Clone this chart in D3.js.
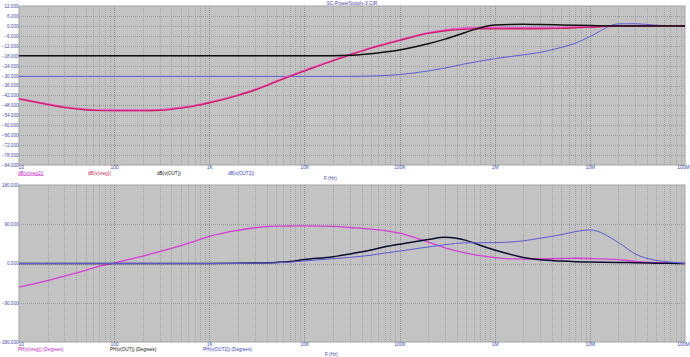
<!DOCTYPE html>
<html>
<head>
<meta charset="utf-8">
<script src="https://cdn.jsdelivr.net/npm/d3@7.9.0/dist/d3.min.js"></script>
<style>
  html, body { margin: 0; padding: 0; background: #fff; }
  svg { display: block; font-family: "Liberation Sans", Arial, sans-serif; }
</style>
</head>
<body>
<svg id="chart" width="690" height="357"></svg>
<script>
// ---------- data ----------
const title = 'SC-PowerSupply-3.CIR';

// sample frequencies (Hz), 1-2-3-5-7 per decade
const freqs = [
  10, 20, 30, 50, 70,
  100, 200, 300, 500, 700,
  1e3, 2e3, 3e3, 5e3, 7e3,
  1e4, 2e4, 3e4, 5e4, 7e4,
  1e5, 2e5, 3e5, 5e5, 7e5,
  1e6, 2e6, 3e6, 5e6, 7e6,
  1e7, 2e7, 3e7, 5e7, 7e7,
  1e8
];

const xTickVals = [10, 100, 1e3, 1e4, 1e5, 1e6, 1e7, 1e8];
const xTickText = ['10', '100', '1K', '10K', '100K', '1M', '10M', '100M'];

const dbTicks = [12, 6, 0, -6, -12, -18, -24, -30, -36, -42, -48, -54, -60, -66, -72, -78, -84];
const phTicks = [180, 90, 0, -90, -180];

// magnitude (dB)
const dbVreg2 = [
  -44, -47.3, -49.1, -50.5, -50.9,
  -51, -51, -50.8, -49.5, -48.2,
  -46.3, -41.8, -38.6, -33.6, -30.3,
  -27.1, -20.8, -17.4, -13.3, -11,
  -8.6, -4.3, -2.6, -1.5, -1.2,
  -1.2, -1.3, -1.3, -1.2, -0.9,
  -0.5, 0, 0, 0, 0,
  0
];
const dbVreg = [
  -44.2, -47.5, -49.3, -50.7, -51.1,
  -51.2, -51.2, -51, -49.7, -48.4,
  -46.5, -42, -38.8, -33.8, -30.5,
  -27.3, -21, -17.6, -13.5, -11.2,
  -8.8, -4.5, -3, -2, -1.8,
  -1.8, -1.8, -1.8, -1.6, -1.2,
  -0.8, -0.1, 0, 0, 0,
  0
];
const dbOut = [
  -18, -18, -18, -18, -18,
  -18, -18, -18, -18, -18,
  -18, -18, -18, -18, -18,
  -18, -18, -17.8, -16.8, -15.8,
  -14.5, -10.8, -8, -3.8, -1.2,
  0.5, 1, 0.8, 0.6, 0.4,
  0.2, 0, 0, 0, 0,
  0
];
const dbOut2 = [
  -30.5, -30.5, -30.5, -30.5, -30.5,
  -30.5, -30.5, -30.5, -30.5, -30.5,
  -30.5, -30.5, -30.5, -30.5, -30.5,
  -30.5, -30.5, -30.5, -30.3, -30,
  -29.4, -27.2, -25.5, -22.8, -21.3,
  -19.8, -17.5, -16, -13, -10.5,
  -6.5, 1.2, 1.3, 0.4, 0.1,
  0
];

// phase (degrees)
const phVreg = [
  -54, -39, -29, -15.5, -6,
  1, 17, 27, 41, 51,
  62, 76, 82, 85.5, 86,
  86.5, 85, 82.5, 79, 75.5,
  69.5, 49, 36, 24, 18,
  13.5, 10, 10.5, 11.5, 12,
  11.5, 9, 5, 2, 0.8,
  0
];
const phOut = [
  0, 0, 0, 0, 0,
  0, 0, 0, 0, 0,
  0, 0.5, 1, 2.5, 4.5,
  9, 15.5, 22, 31, 38.5,
  44, 55, 60, 53, 42,
  31, 14, 8.5, 5.5, 4.2,
  3.5, 2.5, 1.5, 0.7, 0.3,
  0
];
const phOut2 = [
  0, 0, 0, 0, 0,
  0, 0, 0, 0, 0,
  0, 0, 0.5, 1.5, 3,
  6, 11, 14, 19, 24,
  28.5, 38, 43, 47.5, 47.5,
  47.8, 52, 58, 66, 73,
  77, 48, 22, 7, 3.5,
  0
];

// ---------- layout ----------
const svg = d3.select('#chart');
const X0 = 19, X1 = 685;
const topBox = { y0: 6, y1: 165 };
const botBox = { y0: 185, y1: 342 };
const labelColor = '#4646a6';

const x = d3.scaleLog().domain([10, 1e8]).range([X0, X1]);
const yDb = d3.scaleLinear().domain([-84, 12]).range([topBox.y1, topBox.y0]);
const yPh = d3.scaleLinear().domain([-180, 180]).range([botBox.y1, botBox.y0]);

svg.append('text')
  .attr('x', 352).attr('y', 5)
  .attr('text-anchor', 'middle')
  .attr('font-size', 4.8)
  .attr('fill', labelColor)
  .text(title);

function drawPanel(y, yTicks, box) {
  const g = svg.append('g');
  g.append('rect')
    .attr('x', X0).attr('y', box.y0)
    .attr('width', X1 - X0).attr('height', box.y1 - box.y0)
    .attr('fill', '#c3c3c3')
    .attr('stroke', '#a4a4a4').attr('stroke-width', 1);

  // vertical grid: every 1..9 x decade
  g.selectAll('line.vg')
    .data(x.ticks().filter(v => v > 10 && v < 1e8))
    .join('line')
    .attr('x1', d => Math.round(x(d)) + 0.5).attr('x2', d => Math.round(x(d)) + 0.5)
    .attr('y1', box.y0).attr('y2', box.y1)
    .attr('stroke', d => xTickVals.includes(d) ? '#8e8e8e' : '#a2a2a2')
    .attr('stroke-width', 1)
    .attr('stroke-dasharray', '1,1');

  // horizontal grid
  g.selectAll('line.hg')
    .data(yTicks.slice(1, -1))
    .join('line')
    .attr('x1', X0).attr('x2', X1)
    .attr('y1', d => Math.round(y(d)) + 0.5).attr('y2', d => Math.round(y(d)) + 0.5)
    .attr('stroke', '#9c9c9c')
    .attr('stroke-width', 1)
    .attr('stroke-dasharray', '1,1');

  // y axis labels
  const ya = svg.append('g')
    .attr('transform', `translate(${X0 - 0.5},0)`)
    .call(d3.axisLeft(y).tickValues(yTicks).tickSize(0).tickPadding(0).tickFormat(d3.format('.3f')));
  ya.select('.domain').remove();
  ya.selectAll('text').attr('font-size', 4.6).attr('fill', labelColor)
    .attr('font-family', '"Liberation Sans", Arial, sans-serif');

  // x axis labels
  const xa = svg.append('g')
    .attr('transform', `translate(0,${box.y1})`)
    .call(d3.axisBottom(x).tickValues(xTickVals).tickSize(0).tickPadding(1)
      .tickFormat((d, i) => xTickText[i]));
  xa.select('.domain').remove();
  xa.selectAll('text').attr('font-size', 4.9).attr('fill', labelColor)
    .attr('font-family', '"Liberation Sans", Arial, sans-serif');
  const n = xTickVals.length;
  xa.selectAll('.tick').filter((d, i) => i === 0).select('text').attr('text-anchor', 'start').attr('dx', -1);
  xa.selectAll('.tick').filter((d, i) => i === n - 1).select('text').attr('text-anchor', 'end').attr('dx', 4);
}

drawPanel(yDb, dbTicks, topBox);
drawPanel(yPh, phTicks, botBox);

function drawSeries(y, values, color, width) {
  const line = d3.line()
    .x((d, i) => x(freqs[i]))
    .y(d => y(d))
    .curve(d3.curveMonotoneX);
  svg.append('path')
    .datum(values)
    .attr('d', line)
    .attr('fill', 'none')
    .attr('stroke', color)
    .attr('stroke-width', width)
    .attr('stroke-linejoin', 'round');
}

drawSeries(yDb, dbOut2, '#5c5cd6', 1);
drawSeries(yDb, dbVreg2, '#e850c8', 2);
drawSeries(yDb, dbVreg, '#cc1a5a', 1.1);
drawSeries(yDb, dbOut, '#111111', 1.5);

drawSeries(yPh, phVreg, '#d63cd6', 1.3);
drawSeries(yPh, phOut, '#0c0c30', 1.5);
drawSeries(yPh, phOut2, '#5a5ad4', 1);

// legends
function legend(items, yPos) {
  items.forEach(it => {
    svg.append('text')
      .attr('x', it.x).attr('y', yPos)
      .attr('font-size', 4.6)
      .attr('fill', it.color)
      .attr('text-decoration', it.underline ? 'underline' : null)
      .text(it.label);
  });
}

legend([
  { label: 'dB(v(vreg2))', x: 18, color: '#c020c0', underline: true },
  { label: 'dB(v(vreg))', x: 88, color: '#cc2050' },
  { label: 'dB(v(OUT))', x: 157, color: '#111111' },
  { label: 'dB(v(OUT2))', x: 228, color: '#4040c0' }
], 174.5);
svg.append('text').attr('x', 324).attr('y', 180).attr('font-size', 4.6)
  .attr('fill', labelColor).text('F (Hz)');

legend([
  { label: 'PH(v(vreg)) (Degrees)', x: 18, color: '#c020c0' },
  { label: 'PH(v(OUT)) (Degrees)', x: 110, color: '#111111' },
  { label: 'PH(v(OUT2)) (Degrees)', x: 203, color: '#4040c0' }
], 351);
svg.append('text').attr('x', 325).attr('y', 356).attr('font-size', 4.6)
  .attr('fill', labelColor).text('F (Hz)');
</script>
</body>
</html>
